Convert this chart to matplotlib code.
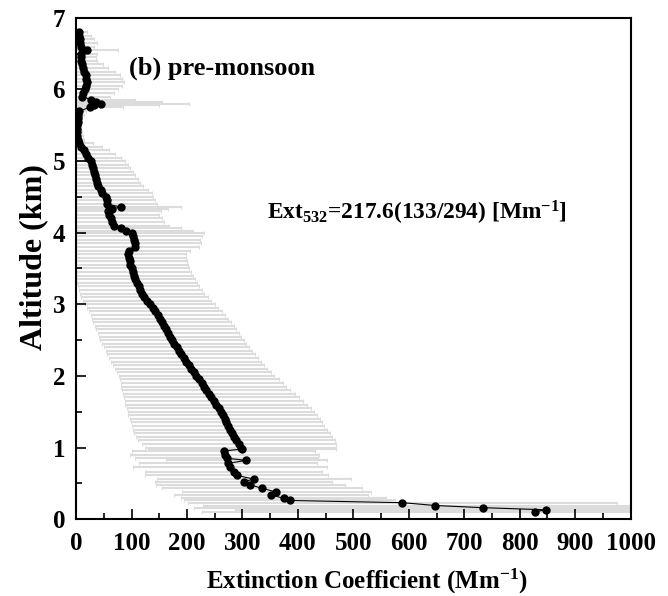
import matplotlib.pyplot as plt
from matplotlib.ticker import MultipleLocator

plt.rcParams['font.family'] = ['Liberation Serif', 'DejaVu Serif']
plt.rcParams['font.weight'] = 'bold'
plt.rcParams['mathtext.fontset'] = 'custom'
plt.rcParams['mathtext.rm'] = 'Liberation Serif:bold'
plt.rcParams['mathtext.bf'] = 'Liberation Serif:bold'
plt.rcParams['mathtext.it'] = 'Liberation Serif:bold'

# altitude (km), mean extinction and std (Mm-1)
altitude = [0.10, 0.13, 0.16, 0.19, 0.23, 0.26, 0.29, 0.34, 0.38, 0.43,
            0.48, 0.52, 0.56, 0.61, 0.66, 0.73, 0.78, 0.82, 0.85, 0.90,
            0.95, 0.98, 1.00, 1.05, 1.10, 1.15, 1.20, 1.25, 1.30, 1.35,
            1.40, 1.45, 1.50, 1.55, 1.60, 1.65, 1.70, 1.75, 1.80, 1.85,
            1.90, 1.95, 2.00, 2.05, 2.10, 2.15, 2.20, 2.25, 2.30, 2.35,
            2.40, 2.45, 2.50, 2.55, 2.60, 2.65, 2.70, 2.75, 2.80, 2.85,
            2.90, 2.95, 3.00, 3.05, 3.10, 3.15, 3.20, 3.25, 3.30, 3.35,
            3.40, 3.45, 3.50, 3.55, 3.60, 3.65, 3.70, 3.75,
            3.80, 3.85, 3.90, 3.95, 4.00, 4.03, 4.06, 4.10, 4.15, 4.20,
            4.25, 4.30, 4.33, 4.36, 4.40, 4.45, 4.50, 4.55, 4.60, 4.65,
            4.70, 4.75, 4.80, 4.85, 4.90, 4.95, 5.00, 5.05, 5.10, 5.15,
            5.20, 5.25, 5.30, 5.35, 5.40, 5.45, 5.50, 5.55, 5.60, 5.65,
            5.70, 5.75, 5.78, 5.80, 5.83, 5.86, 5.90, 5.95, 6.00, 6.05,
            6.10, 6.15, 6.20, 6.25, 6.30, 6.35, 6.40, 6.45, 6.50, 6.55,
            6.60, 6.65, 6.70, 6.75, 6.80]
ext_mean = [827, 847, 733, 648, 588, 385, 374, 352, 361, 335,
            314, 302, 320, 290, 284, 278, 274, 307, 272, 268,
            266, 299, 297, 293, 289, 285, 281, 277, 274, 271,
            268, 264, 261, 257, 253, 249, 244, 239, 234, 230,
            227, 222, 217, 212, 207, 203, 198, 194, 189, 185,
            181, 177, 173, 170, 166, 162, 159, 155, 151, 147,
            143, 138, 133, 128, 123, 119, 116, 113, 110, 107,
            105, 102, 100, 98, 97, 95, 94, 96,
            107, 106, 104, 102, 100, 90, 80, 68, 64, 62,
            60, 58, 65, 80, 56, 55, 53, 47, 44, 40,
            38, 36, 34, 32, 30, 28, 26, 22, 18, 14,
            9, 5, 3, 2, 2, 2, 2, 3, 3, 4,
            5, 25, 32, 44, 35, 26, 11, 13, 16, 17,
            19, 18, 17, 15, 13, 10, 8, 8, 8, 20,
            8, 7, 7, 6, 5]
ext_std = [600, 560, 520, 420, 387, 190, 185, 175, 170, 180,
           170, 160, 175, 165, 160, 175, 160, 145, 165, 170,
           165, 170, 172, 175, 178, 177, 176, 175, 173, 172,
           171, 170, 168, 166, 164, 161, 158, 155, 152, 149,
           146, 143, 140, 139, 137, 136, 135, 134, 133, 132,
           131, 130, 130, 128, 127, 126, 125, 124, 122, 121,
           120, 118, 117, 115, 114, 112, 111, 109, 108, 107,
           106, 105, 104, 103, 103, 103, 105, 110,
           115, 120, 120, 125, 130, 120, 110, 100, 95, 92,
           90, 95, 100, 110, 90, 88, 85, 90, 85, 80,
           78, 75, 72, 70, 68, 65, 62, 58, 52, 45,
           38, 25, 12, 10, 8, 7, 6, 7, 8, 10,
           12, 60, 118, 160, 120, 80, 50, 55, 60, 65,
           68, 65, 62, 55, 45, 38, 30, 28, 30, 55,
           25, 30, 25, 20, 15]

fig = plt.figure(figsize=(6.68, 5.96), dpi=100)
ax = fig.add_axes([0.114, 0.129, 0.830, 0.841])

ax.errorbar(ext_mean, altitude, xerr=ext_std, fmt='none', ecolor='#dcdcdc',
            elinewidth=1.5, capsize=1.5, capthick=0.8, zorder=1)
ax.plot(ext_mean, altitude, '-o', color='black', lw=0.8, ms=5, zorder=3)

ax.set_xlim(0, 1000)
ax.set_ylim(0, 7)
ax.xaxis.set_major_locator(MultipleLocator(100))
ax.xaxis.set_minor_locator(MultipleLocator(50))
ax.yaxis.set_major_locator(MultipleLocator(1))
ax.yaxis.set_minor_locator(MultipleLocator(0.5))
ax.tick_params(which='both', direction='in', top=False, right=False,
               width=1.2, labelsize=18)
ax.tick_params(which='major', length=7)
ax.tick_params(which='minor', length=4)
ax.tick_params(axis='x', pad=9)
ax.tick_params(axis='y', pad=8)
for s in ax.spines.values():
    s.set_linewidth(1.5)

ax.set_xlabel('Extinction Coefficient (Mm$^{-1}$)', fontsize=18,
              fontweight='bold')
ax.xaxis.set_label_coords(0.525, -0.095)
ax.set_ylabel('Altitude (km)', fontsize=23, fontweight='bold')
ax.yaxis.set_label_coords(-0.05, 0.523)

ax.text(0.095, 0.887, '(b) pre-monsoon', transform=ax.transAxes,
        fontsize=19, fontweight='bold')
ax.text(0.345, 0.597, 'Ext$_{532}$=217.6(133/294) [Mm$^{-1}$]',
        transform=ax.transAxes, fontsize=16.8, fontweight='bold')

plt.savefig('out.png', dpi=100)
